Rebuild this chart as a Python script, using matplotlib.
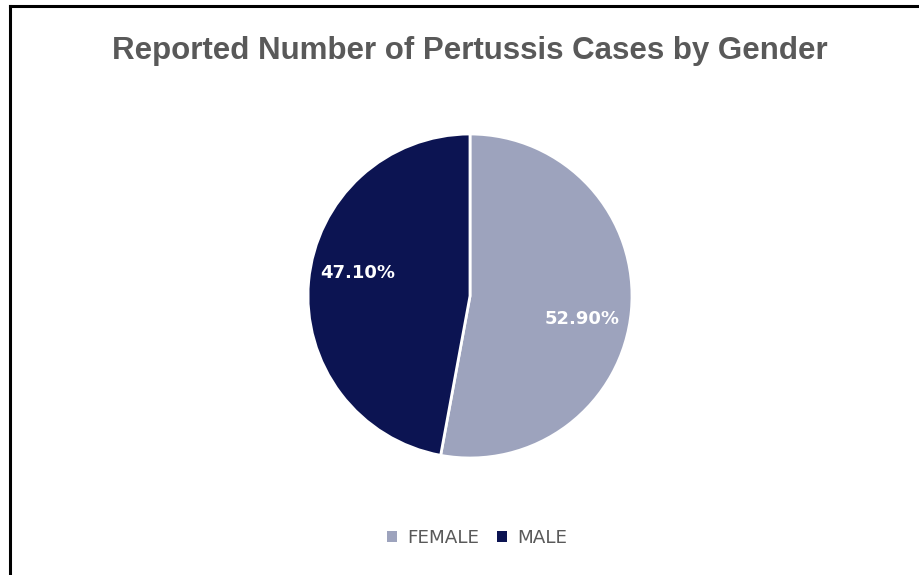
import matplotlib
matplotlib.use("Agg")
import numpy as np
import matplotlib.pyplot as plt
from matplotlib.patches import Patch
from matplotlib.lines import Line2D

# data
genders = ["FEMALE", "MALE"]
shares = [52.9, 47.1]
colors = ["#9da3bd", "#0c1452"]

title = "Reported Number of Pertussis Cases by Gender"

W, H = 920, 575
fig = plt.figure(figsize=(W / 100, H / 100), dpi=100)
fig.patch.set_facecolor("white")

# outer frame (only top and left visible in the reference)
fig.add_artist(Line2D([10.5 / W, 10.5 / W], [0, 1 - 5.5 / H], color="black", lw=2.2,
                      transform=fig.transFigure))
fig.add_artist(Line2D([10.5 / W, 1], [1 - 5.5 / H, 1 - 5.5 / H], color="black", lw=2.2,
                      transform=fig.transFigure))

# pie axes: centre (470, 296), radius 162 px
cx, cy, r = 470, 296, 162
ax = fig.add_axes([(cx - r) / W, (H - cy - r) / H, 2 * r / W, 2 * r / H])
wedges, texts, autotexts = ax.pie(
    shares, colors=colors, startangle=90, counterclock=False,
    autopct="%.2f%%", pctdistance=0.705,
    wedgeprops=dict(edgecolor="white", linewidth=2),
    textprops=dict(color="white", fontsize=13, fontweight="bold",
                   family="DejaVu Sans"))
# Excel-style label placement: a little clockwise of the wedge middle
for w, t in zip(wedges, autotexts):
    mid = np.deg2rad((w.theta1 + w.theta2) / 2 - 6.5)
    t.set_position((0.705 * np.cos(mid), 0.705 * np.sin(mid)))
ax.set_xlim(-1.0, 1.0)
ax.set_ylim(-1.0, 1.0)
ax.set_aspect("equal")

fig.text(cx / W, 1 - 51 / H, title, ha="center", va="center", fontsize=22.5,
         fontweight="bold", color="#595959", family="Liberation Sans")

handles = [Patch(facecolor=c, edgecolor="none") for c in colors]
fig.legend(handles, genders, loc="center", bbox_to_anchor=(477 / W, 1 - 538 / H),
           ncol=2, frameon=False, handlelength=0.55, handleheight=0.55,
           handletextpad=0.55, columnspacing=1.0,
           prop=dict(size=13.2, family="DejaVu Sans"), labelcolor="#595959")

fig.savefig("out.png", dpi=100)
